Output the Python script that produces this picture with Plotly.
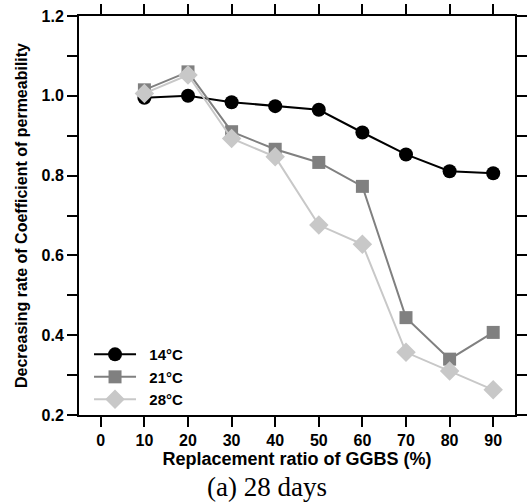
import plotly.graph_objects as go

ggbs = [10, 20, 30, 40, 50, 60, 70, 80, 90]
t14 = [0.995, 1.0, 0.984, 0.974, 0.965, 0.908, 0.853, 0.811, 0.806]
t21 = [1.015, 1.06, 0.910, 0.866, 0.833, 0.773, 0.444, 0.340, 0.407]
t28 = [1.006, 1.052, 0.893, 0.847, 0.676, 0.628, 0.357, 0.310, 0.263]
x_ticks = [0, 10, 20, 30, 40, 50, 60, 70, 80, 90]
names = ["14°C", "21°C", "28°C"]

F = "Liberation Sans, Arial, sans-serif"
NB = "\u00a0\u00a0"

fig = go.Figure()
styles = [("#000000", "circle", 14), ("#808080", "square", 13), ("#c8c8c8", "diamond", 15)]
for name, ys, (col, sym, sz) in zip(names, [t14, t21, t28], styles):
    fig.add_trace(go.Scatter(x=ggbs, y=ys, name=NB + name, mode="lines+markers",
                             line=dict(color=col, width=2),
                             marker=dict(color=col, symbol=sym, size=sz)))

axis_common = dict(showline=True, linecolor="black", linewidth=2, mirror="ticks",
                   ticks="outside", ticklen=10, tickwidth=2, tickcolor="black",
                   showgrid=False, zeroline=False, automargin=False,
                   tickfont=dict(family=F, size=16, color="black", weight="bold"))

fig.update_xaxes(range=[-5, 95], tickvals=x_ticks,
                 title=dict(text="Replacement ratio of GGBS (%)", standoff=0,
                            font=dict(family=F, size=18, color="black", weight="bold")),
                 **axis_common)
fig.update_yaxes(range=[0.2, 1.2], dtick=0.2, tick0=0.2, tickformat=".1f",
                 minor=dict(dtick=0.1, ticks="outside", ticklen=10, tickwidth=2, tickcolor="black"),
                 title=dict(text="Decreasing rate of Coefficient of permeability", standoff=10,
                            font=dict(family=F, size=16, color="black", weight="bold")),
                 **axis_common)

fig.add_annotation(text="(a) 28 days", xref="paper", yref="paper", x=0.431, y=-0.18,
                   xanchor="center", yanchor="middle", showarrow=False,
                   font=dict(family="Liberation Serif, Times New Roman, serif", size=27, color="black"))

fig.update_layout(width=531, height=504, margin=dict(l=79, r=16, t=16, b=89),
                  paper_bgcolor="white", plot_bgcolor="white",
                  legend=dict(x=0.023, y=0.095, xanchor="left", yanchor="middle",
                              bgcolor="rgba(0,0,0,0)", tracegroupgap=0, itemwidth=42,
                              font=dict(family=F, size=15, color="black", weight="bold")),
                  showlegend=True)

fig.write_html("out.html", config={"displayModeBar": False},
               post_script="document.body.style.margin='0px';")
